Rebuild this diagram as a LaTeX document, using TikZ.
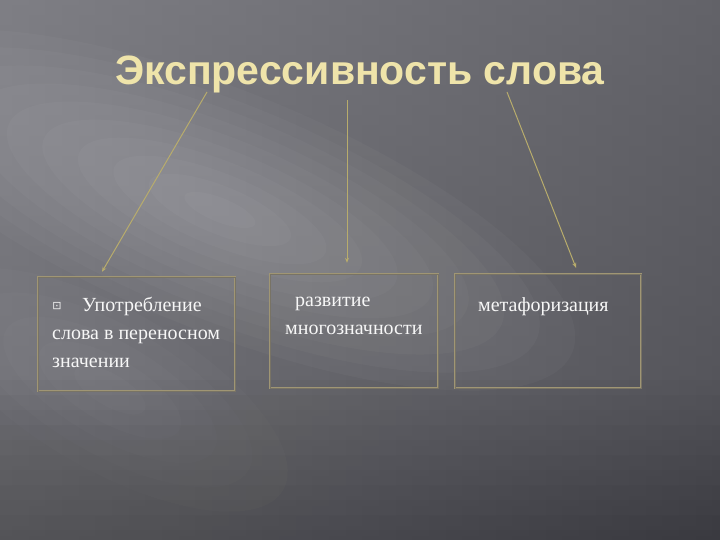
\documentclass[tikz,border=0pt]{standalone}
\usepackage{fontspec}
\setmainfont{Liberation Serif}
\newfontfamily\titlefont{Liberation Sans}
\newfontfamily\symfont{DejaVu Sans}
\usetikzlibrary{positioning,arrows.meta}
\definecolor{bgdark}{HTML}{505056}
\definecolor{bglight}{HTML}{86868C}
\definecolor{goldline}{HTML}{B8AC6C}
\definecolor{boxline}{HTML}{A09674}
\definecolor{titlecol}{HTML}{EFE4AA}
\tikzset{
  wordbox/.style={draw=boxline,double=bgdark!50!boxline,double distance=.6pt,
    line width=.4pt,minimum width=#1,minimum height=114pt,inner sep=0pt},
  boxtext/.style={text=white!94!gray,font=\fontsize{20}{28}\selectfont,
    anchor=north west,inner sep=0pt,align=left},
  linkarrow/.style={draw=goldline,line width=1pt,-{Stealth[length=5pt,width=4pt]}}
}
\begin{document}
\begin{tikzpicture}[x=1pt,y=-1pt]
\useasboundingbox (0,0) rectangle (720,540);
% background
\shade[left color=bglight!80!bgdark,right color=bgdark] (0,0) rectangle (720,540);
\shade[top color=bgdark!0!bglight,bottom color=bgdark,opacity=.35] (0,0) rectangle (720,540);
\foreach \s in {.1,.2,...,1}
  \fill[white,opacity=.028,shift={(220,210)},rotate=-22] (0,0) ellipse ({380*\s} and {120*\s});
\foreach \s in {.2,.4,...,1}
  \fill[white,opacity=.02,shift={(110,390)},rotate=-30] (0,0) ellipse ({200*\s} and {80*\s});
\foreach \y in {380,395,...,530}
  \fill[black,opacity=.018] (0,\y) rectangle (720,540);
% title
\node (title)[font=\titlefont\bfseries\fontsize{41}{44}\selectfont,text=titlecol]
  at (360,74) {Экспрессивность слова};
\coordinate (t1) at (207,92);
\coordinate (t2) at (347,100);
\coordinate (t3) at (507,92);
% boxes
\node (box1)[wordbox=197pt] at (136.5,334) {};
\node (box2)[wordbox=168pt] at (354,331) {};
\node (box3)[wordbox=186pt] at (548,331) {};
% links
\draw[linkarrow] (t1) -- ([xshift=-34.5pt,yshift=5pt]box1.north);
\draw[linkarrow] (t2) -- ([xshift=-7pt,yshift=11pt]box2.north);
\draw[linkarrow] (t3) -- ([xshift=28pt,yshift=6pt]box3.north);
% texts
\node (bul)[text=white!90!gray,font=\symfont\fontsize{11}{11}\selectfont] at (57,306) {⊡};
\node (txt1)[boxtext] at (52,297) {\hspace*{30pt}Употребление\\слова в переносном\\значении};
\node (txt2)[boxtext] at (285,297) {\hspace*{10pt}развитие\\многозначности};
\node (txt3)[boxtext] at (478,297) {метафоризация};
\end{tikzpicture}
\end{document}
